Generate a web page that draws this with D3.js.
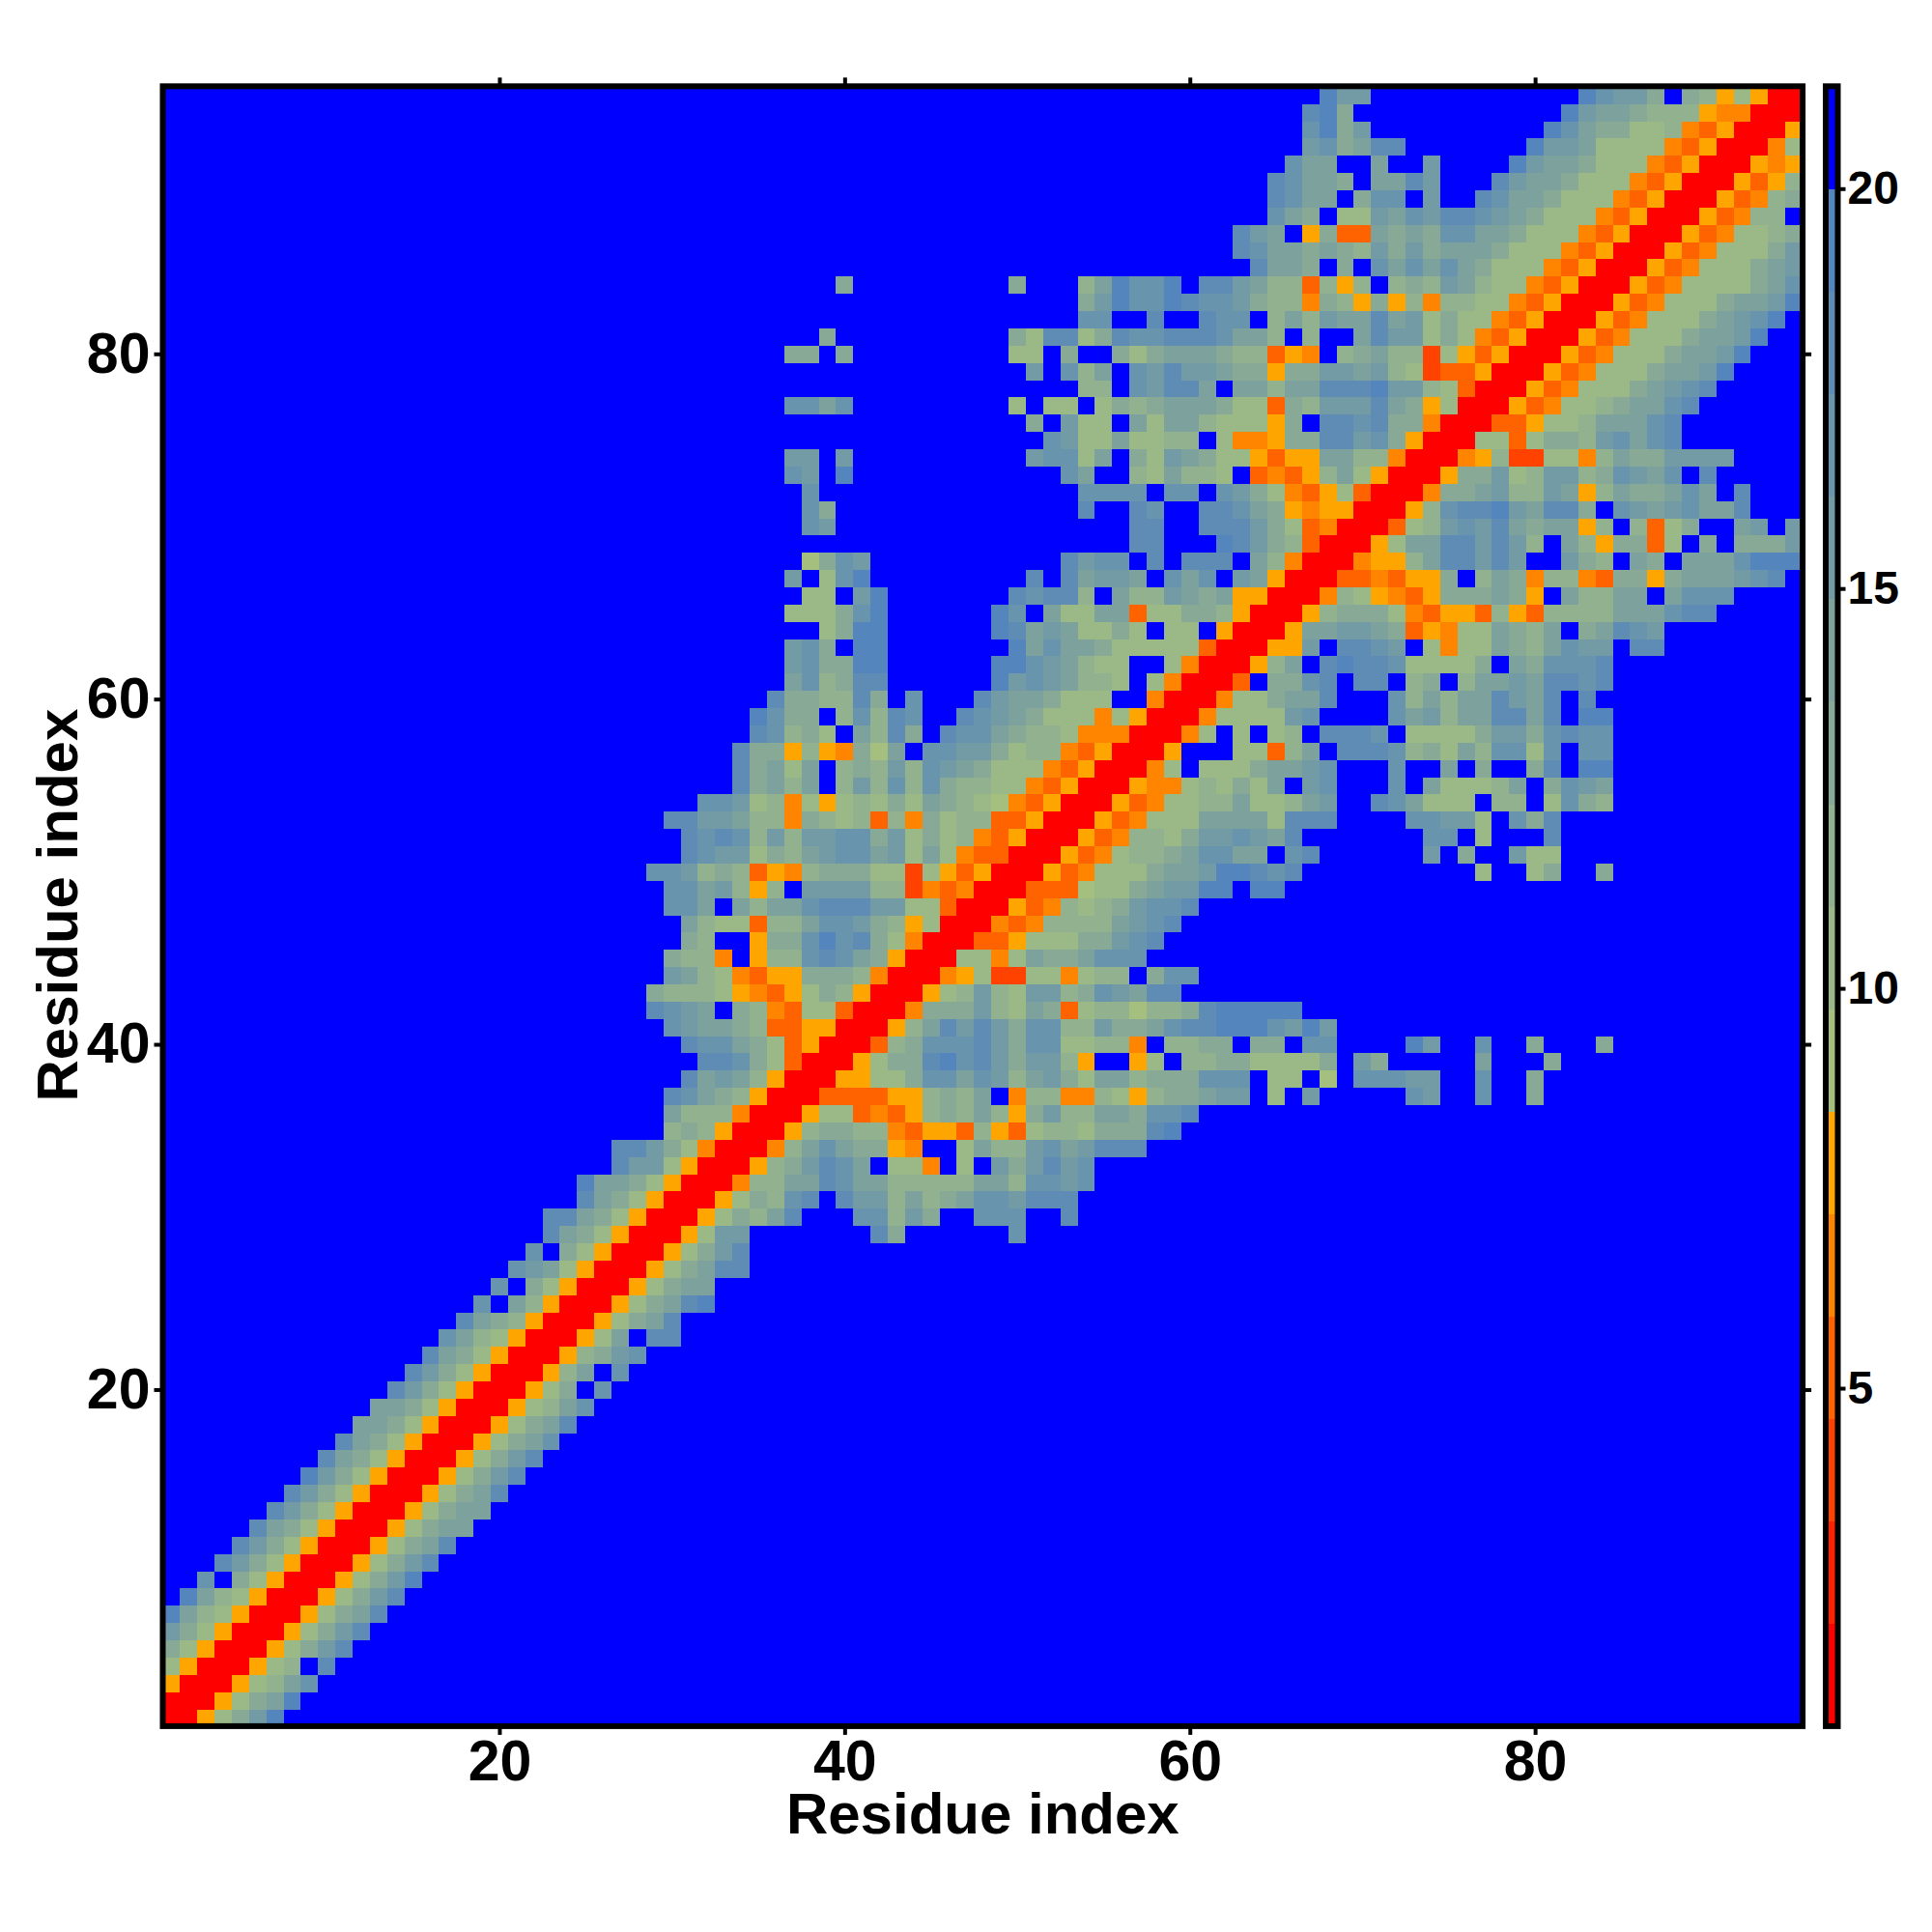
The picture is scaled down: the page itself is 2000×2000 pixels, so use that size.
<!DOCTYPE html>
<html><head><meta charset="utf-8">
<script src="https://cdn.jsdelivr.net/npm/d3@7"></script>
<style>html,body{margin:0;background:#fff}svg{display:block}text{font-family:"Liberation Sans",Arial,sans-serif;font-weight:bold;fill:#000}</style>
</head><body><div id="chart"></div>
<script>
// Upper triangle of the symmetric distance map: one string per residue row, starting on the diagonal.
// Each character is the colour-bar bin (0 = closest, f = farthest); missing tail = farthest bin.
const triangleBins = [
"00579be","00579ae","00578ac","00578fd","00579bd","00579bd","00579ad","00579bd","00579be","00579bd",
"00579ad","00579aa","00579aa","00579ad","00579bd","00579bd","00579ac","00579ad","00578ac","00579fc",
"0058afc","00589bc","0057afdd","00579ad","00579ade","00579aa","00579add","00579bd",
"0057bbfffffffd9ffffffc",
"005798adfffcc8b9ffcccffd",
"005798cdfdbb8a89accbddd",
"00488aadcaa88888aa8ccbc",
"00589bdcaf774f7fb9bdbc",
"0048aca9954ff7a88bcabddd",
"00589988435538537887999de",
"005773435898a859b88aa9ccd",
"00333355898af48844875899abbf7fbfffffcbffcff9",
"0055779ccacb8ab97aa8999cccf77f6fcccbbffcff9",
"005799decdb9bb85ff57f889977779fb9fffffafff9",
"00389cccdb9cc77884f8899f99fccffffebffcff9fff9",
"0058adbdb9cc88b99acddeeecbeb",
"004999b87a937886889deeeee",
"00578b87bb89cbadd",
"0045722774788f9cc",
"007747a99accc",
"0033577799bcd",
"004348888abcd",
"005348789bccd",
"003336779abbeefee",
"005347779aabeedcdffffffffff7ff79ff9",
"005347889accaafcdffffffbf9ffb77",
"005348879bbcbadfffffffccf7fffd",
"00534777aaaa7dddffffccbb7fc9d",
"005347788a778abffdca777f88f7c98",
"0054478797afbcfffcfa7778af9cba",
"0047f7779aabcfffcffaf9ff9dfee",
"005fff7738afdddc897a8cc7cfcc",
"0047f7f78fdddcf77779bb9cdcc",
"0047777bcffffcab8aaddadfee",
"004779aadfffc8a8aadbadfd",
"003f99cdfddf89f8aabaddcd",
"0058afdeddc77779fa9cccd",
"0055bfddcbf7477a98acbbfdd",
"005aabba935477a98af9adcb",
"00589997435538538888aaacdd",
"004875435999a95fa88aafaccc",
"003343559f8a9488439959aaabcd",
"004558addbdbffb98fa9faaaceee",
"0057aaddbdb8fa859937f9f999b",
"00378bcbda9aa58f8379ffabfb",
"0058cddebadd9fcbabcaad",
"00499ab88ba58a99acafd",
"00599b78bb89cbacfd",
"00458227748a99bbbb",
"007737998bcacd",
"00335778aaacd",
"005347789aacd",
"005347779abcd",
"005347779aabe",
"005347779aabe",
"005347779aabe",
"005347779abce",
"005347779aabe",
"0053477779ac",
"005347779ab",
"005347779b",
"005347789",
"0053488f",
"0053489",
"005358",
"00545",
"0047",
"005",
"00",
"0"
];
const residueCount = 95;
const axisTicks = [20, 40, 60, 80];
const colorbarTicks = [5, 10, 15, 20];
const distanceMin = 0.774, distanceMax = 21.28;
const warmColors = ["#ff0000", "#ff2100", "#ff4200", "#ff6300", "#ff8400", "#ffa500"];
const coolStart = "#a5bf7f", coolEnd = "#5585bd", farColor = "#0000ff";
const axisLabel = "Residue index";

const coolColors = d3.quantize(d3.interpolateRgb(coolStart, coolEnd), 9);
const palette = [...warmColors, ...coolColors, farColor];
const binStep = (distanceMax - distanceMin) / palette.length;
const color = d3.scaleQuantize().domain([distanceMin, distanceMax]).range(palette);

// decode to a full symmetric distance matrix
const binOf = (r, c) => {
  const a = Math.min(r, c), b = Math.max(r, c);
  const ch = triangleBins[a - 1][b - a];
  return ch === undefined ? 15 : parseInt(ch, 16);
};
const cells = [];
for (let r = 1; r <= residueCount; r++)
  for (let c = 1; c <= residueCount; c++)
    cells.push({ r, c, d: distanceMin + (binOf(r, c) + 0.5) * binStep });

const L = 168.5, R = 1866.1, T = 89.3, B = 1786.9;
const x = d3.scaleLinear().domain([0.5, residueCount + 0.5]).range([L, R]);
const y = d3.scaleLinear().domain([0.5, residueCount + 0.5]).range([B, T]);

const svg = d3.select("#chart").append("svg").attr("width", 2000).attr("height", 2000);

svg.append("g").attr("shape-rendering", "crispEdges").selectAll("rect").data(cells).join("rect")
  .attr("x", d => x(d.c - 0.5)).attr("y", d => y(d.r + 0.5))
  .attr("width", d => x(d.c + 0.5) - x(d.c - 0.5) + 0.5)
  .attr("height", d => y(d.r - 0.5) - y(d.r + 0.5) + 0.5)
  .attr("fill", d => color(d.d));

function styleAxis(g, size) {
  g.select(".domain").remove();
  g.selectAll(".tick line").attr("stroke", "#000").attr("stroke-width", 4);
  g.selectAll(".tick text").attr("font-size", size).attr("font-weight", "bold")
    .attr("font-family", '"Liberation Sans"').attr("fill", "#000");
}
svg.append("g").attr("transform", `translate(0,${B})`)
  .call(d3.axisBottom(x).tickValues(axisTicks).tickSize(9).tickPadding(5)).call(styleAxis, 59);
svg.append("g").attr("transform", `translate(${L},0)`)
  .call(d3.axisLeft(y).tickValues(axisTicks).tickSize(9).tickPadding(4)).call(styleAxis, 59);
svg.append("g").attr("transform", `translate(0,${T})`)
  .call(d3.axisTop(x).tickValues(axisTicks).tickSize(9).tickFormat("")).call(styleAxis, 59);
svg.append("g").attr("transform", `translate(${R},0)`)
  .call(d3.axisRight(y).tickValues(axisTicks).tickSize(9).tickFormat("")).call(styleAxis, 59);

svg.append("rect").attr("x", L).attr("y", T).attr("width", R - L).attr("height", B - T)
  .attr("fill", "none").attr("stroke", "#000").attr("stroke-width", 6);

svg.append("text").attr("x", (L + R) / 2).attr("y", 1898).attr("text-anchor", "middle")
  .attr("font-size", 60).text(axisLabel);
svg.append("text").attr("transform", `translate(80,${(T + B) / 2 - 1}) rotate(-90)`)
  .attr("text-anchor", "middle").attr("font-size", 60).text(axisLabel);

// colour bar
const barL = 1890, barR = 1902.5;
const cy = d3.scaleLinear().domain([distanceMin, distanceMax]).range([B, T]);
svg.append("g").attr("shape-rendering", "crispEdges").selectAll("rect").data(palette).join("rect")
  .attr("x", barL).attr("width", barR - barL)
  .attr("y", (d, i) => cy(distanceMin + (i + 1) * binStep))
  .attr("height", (d, i) => cy(distanceMin + i * binStep) - cy(distanceMin + (i + 1) * binStep) + 0.5)
  .attr("fill", d => d);
svg.append("rect").attr("x", barL).attr("y", T).attr("width", barR - barL).attr("height", B - T)
  .attr("fill", "none").attr("stroke", "#000").attr("stroke-width", 6);
svg.append("g").attr("transform", `translate(${barR},0)`)
  .call(d3.axisRight(cy).tickValues(colorbarTicks).tickSize(8).tickPadding(2)).call(styleAxis, 48);
</script></body></html>
